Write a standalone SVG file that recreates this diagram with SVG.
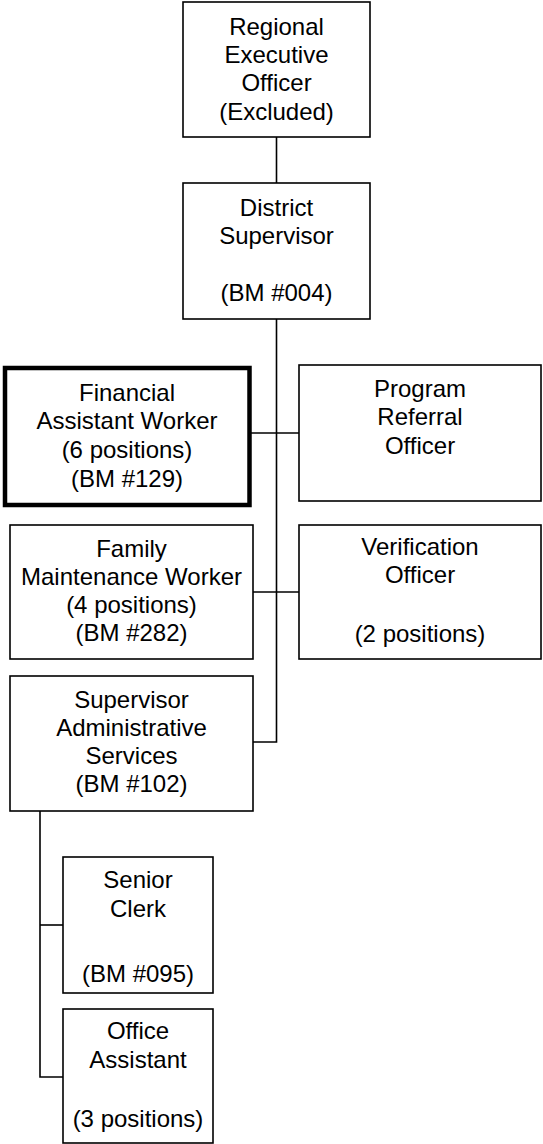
<svg xmlns="http://www.w3.org/2000/svg" width="543" height="1144" viewBox="0 0 543 1144">
<style>
.box{fill:#fff;stroke:#000;stroke-width:1.6}
.thick{fill:#fff;stroke:#000;stroke-width:4.5}
.t{font-family:"Liberation Sans",Arial,sans-serif;font-size:24px;fill:#000;text-anchor:middle}
.c{fill:none;stroke:#000;stroke-width:1.6}
</style>
<rect width="543" height="1144" fill="#fff"/>
<g id="connectors">
<line class="c" x1="276.5" y1="137" x2="276.5" y2="183"/>
<polyline class="c" points="276.5,319 276.5,742 253,742"/>
<line class="c" x1="251" y1="433" x2="299" y2="433"/>
<line class="c" x1="253" y1="592" x2="299" y2="592"/>
<polyline class="c" points="40,811 40,1077 63,1077"/>
<line class="c" x1="40" y1="925" x2="63" y2="925"/>
</g>
<g id="regional">
<rect class="box" x="183" y="2" width="187" height="135"/>
<text class="t" x="276.5" y="35">Regional</text>
<text class="t" x="276.5" y="63">Executive</text>
<text class="t" x="276.5" y="91">Officer</text>
<text class="t" x="276.5" y="120">(Excluded)</text>
</g>
<g id="district">
<rect class="box" x="183" y="183" width="187" height="136"/>
<text class="t" x="276.5" y="216">District</text>
<text class="t" x="276.5" y="244">Supervisor</text>
<text class="t" x="276.5" y="301">(BM #004)</text>
</g>
<g id="financial">
<rect class="thick" x="5" y="368" width="244.5" height="137"/>
<text class="t" x="127" y="401">Financial</text>
<text class="t" x="127" y="429">Assistant Worker</text>
<text class="t" x="127" y="458">(6 positions)</text>
<text class="t" x="127" y="487">(BM #129)</text>
</g>
<g id="program">
<rect class="box" x="299" y="365" width="242" height="136"/>
<text class="t" x="420" y="397">Program</text>
<text class="t" x="420" y="425">Referral</text>
<text class="t" x="420" y="454">Officer</text>
</g>
<g id="family">
<rect class="box" x="10" y="525" width="243" height="134"/>
<text class="t" x="131.5" y="557">Family</text>
<text class="t" x="131.5" y="585">Maintenance Worker</text>
<text class="t" x="131.5" y="613">(4 positions)</text>
<text class="t" x="131.5" y="641">(BM #282)</text>
</g>
<g id="verification">
<rect class="box" x="299" y="525" width="242" height="134"/>
<text class="t" x="420" y="555">Verification</text>
<text class="t" x="420" y="583">Officer</text>
<text class="t" x="420" y="642">(2 positions)</text>
</g>
<g id="supervisor-admin">
<rect class="box" x="10" y="676" width="243" height="135"/>
<text class="t" x="131.5" y="708">Supervisor</text>
<text class="t" x="131.5" y="736">Administrative</text>
<text class="t" x="131.5" y="764">Services</text>
<text class="t" x="131.5" y="792">(BM #102)</text>
</g>
<g id="senior-clerk">
<rect class="box" x="63" y="857" width="150" height="136"/>
<text class="t" x="138" y="888">Senior</text>
<text class="t" x="138" y="917">Clerk</text>
<text class="t" x="138" y="982">(BM #095)</text>
</g>
<g id="office-assistant">
<rect class="box" x="63" y="1009" width="150" height="134"/>
<text class="t" x="138" y="1039">Office</text>
<text class="t" x="138" y="1068">Assistant</text>
<text class="t" x="138" y="1127">(3 positions)</text>
</g>
</svg>
